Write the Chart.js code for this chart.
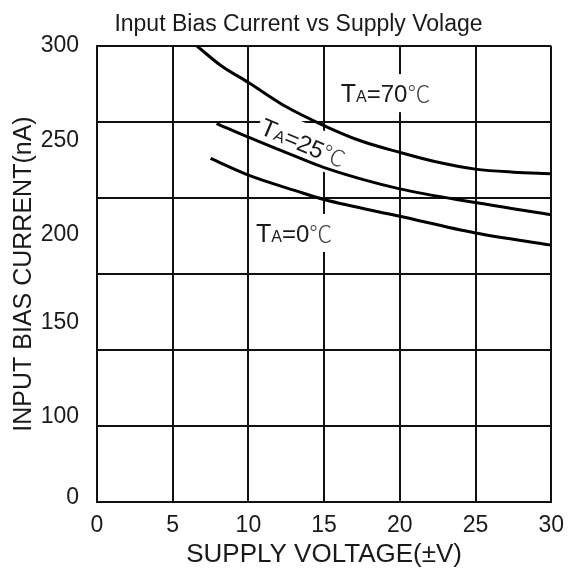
<!DOCTYPE html>
<html>
<head>
<meta charset="utf-8">
<script src="https://cdn.jsdelivr.net/npm/chart.js@4"></script>
<style>
  html, body { margin: 0; padding: 0; background: #fff; }
  #wrap { width: 574px; height: 572px; }
</style>
</head>
<body>
<div id="wrap"><canvas id="myChart"></canvas></div>
<script>
// valores (tensão em ±V, corrente em nA)
const volt70 = [6.6, 8.2, 10, 12.5, 14.7, 17.3, 20, 22.3, 25, 27.5, 30];
const curr70 = [300, 287, 276, 260, 249, 238, 230, 224, 219, 217, 216];
const volt25 = [7.9, 10, 13.2, 15, 20, 25, 30];
const curr25 = [249, 240, 227, 220, 206, 197, 189];
const volt0 = [7.5, 10, 13.2, 15, 20, 25, 30];
const curr0 = [226, 215, 204.5, 199, 188, 177, 169];

const temps = ['70', '25', '0'];
const xTicks = [0, 5, 10, 15, 20, 25, 30];
const yGrid = [0, 50, 100, 150, 200, 250, 300];
// os rótulos do eixo y não ficam alinhados com a grade no original
const yLabelAt = [3, 56, 118, 176, 238, 300];
const yTickLabels = ['0', '100', '150', '200', '250', '300'];

// onde ficam os rótulos TA=..., em unidades do gráfico
const tagVolt = [16.1, 10.9, 10.5];
const tagCurr = [269, 248, 177];
const tagAngle = [0, 23, 0];

const FONT = '"Liberation Sans", Arial, sans-serif';

function pts(xs, ys) {
  return xs.map((v, i) => ({ x: v, y: ys[i] }));
}

function tagParts(t) {
  return [
    ['T', '25px ' + FONT],
    ['A', '16px ' + FONT],
    ['=' + t, '24px ' + FONT],
    ['\u2103', '300 23px "Noto Sans CJK SC", ' + FONT]
  ];
}

function tagWidth(ctx, parts) {
  let w = 0;
  parts.forEach(p => { ctx.font = p[1]; w += ctx.measureText(p[0]).width; });
  return w;
}

// rótulos das curvas: fundo branco por cima da grade, texto por cima de tudo
const tagPlugin = {
  id: 'tags',
  afterLayout(chart) {
    // o título do original fica um pouco à direita do centro
    chart.titleBlock.left = 38;
  },
  beforeDatasetsDraw(chart) {
    const { ctx, scales: { x, y } } = chart;
    temps.forEach((t, i) => {
      ctx.save();
      ctx.translate(x.getPixelForValue(tagVolt[i]), y.getPixelForValue(tagCurr[i]));
      ctx.rotate(tagAngle[i] * Math.PI / 180);
      const w = tagWidth(ctx, tagParts(t));
      ctx.fillStyle = '#fff';
      ctx.fillRect(-3, -19, w + 6, 38);
      ctx.restore();
    });
  },
  afterDatasetsDraw(chart) {
    const { ctx, scales: { x, y } } = chart;
    temps.forEach((t, i) => {
      ctx.save();
      ctx.translate(x.getPixelForValue(tagVolt[i]), y.getPixelForValue(tagCurr[i]));
      ctx.rotate(tagAngle[i] * Math.PI / 180);
      ctx.textBaseline = 'alphabetic';
      let cx = 0;
      tagParts(t).forEach((p, k) => {
        ctx.font = p[1];
        ctx.fillStyle = k === 3 ? '#444' : '#1a1a1a';
        ctx.fillText(p[0], cx, 9);
        cx += ctx.measureText(p[0]).width;
      });
      ctx.restore();
    });
  }
};

const curveStyle = {
  borderColor: '#000',
  borderWidth: 3,
  pointRadius: 0,
  fill: false,
  cubicInterpolationMode: 'monotone'
};

const ctx = document.getElementById('myChart').getContext('2d');
const myChart = new Chart(ctx, {
  type: 'line',
  data: {
    datasets: [
      { label: 'TA=70℃', data: pts(volt70, curr70), ...curveStyle },
      { label: 'TA=25℃', data: pts(volt25, curr25), ...curveStyle },
      { label: 'TA=0℃', data: pts(volt0, curr0), ...curveStyle }
    ]
  },
  options: {
    responsive: true,
    maintainAspectRatio: false,
    animation: false,
    layout: { padding: { left: 0, right: 15, top: 0, bottom: 0 } },
    plugins: {
      legend: { display: false },
      tooltip: { enabled: false },
      title: {
        display: true,
        text: 'Input Bias Current vs Supply Volage',
        color: '#1a1a1a',
        font: { family: FONT, size: 23, weight: 'normal', lineHeight: 1.2 },
        padding: { top: 10.5, bottom: 7.9 }
      }
    },
    scales: {
      x: {
        type: 'linear',
        min: 0,
        max: 30,
        afterBuildTicks: s => { s.ticks = xTicks.map(v => ({ value: v })); },
        afterFit: s => { s.height = 70; },
        grid: { color: '#111', lineWidth: 2, drawTicks: false },
        border: { color: '#111', width: 2 },
        ticks: { color: '#1a1a1a', padding: 10, maxRotation: 0, font: { family: FONT, size: 23 } },
        title: {
          display: true,
          text: 'SUPPLY VOLTAGE(±V)',
          color: '#1a1a1a',
          font: { family: FONT, size: 26 },
          padding: { top: 0, bottom: 2 }
        }
      },
      y: {
        position: 'left',
        weight: 0,
        min: 0,
        max: 300,
        afterBuildTicks: s => { s.ticks = yGrid.map(v => ({ value: v })); },
        afterFit: s => { s.width = 0; },
        grid: { color: '#111', lineWidth: 2, drawTicks: false },
        border: { color: '#111', width: 2 },
        ticks: { display: false }
      },
      yLab: {
        position: 'left',
        weight: 1,
        min: 0,
        max: 300,
        afterBuildTicks: s => { s.ticks = yLabelAt.map(v => ({ value: v })); },
        afterFit: s => { s.width = 97; },
        grid: { display: false, drawTicks: false },
        border: { display: false },
        ticks: {
          color: '#1a1a1a',
          padding: 18,
          font: { family: FONT, size: 23 },
          callback: (v, i) => yTickLabels[i]
        },
        title: {
          display: true,
          text: 'INPUT BIAS CURRENT(nA)',
          color: '#1a1a1a',
          font: { family: FONT, size: 25 },
          padding: { top: 9, bottom: 0 }
        }
      }
    }
  },
  plugins: [tagPlugin]
});
</script>
</body>
</html>
